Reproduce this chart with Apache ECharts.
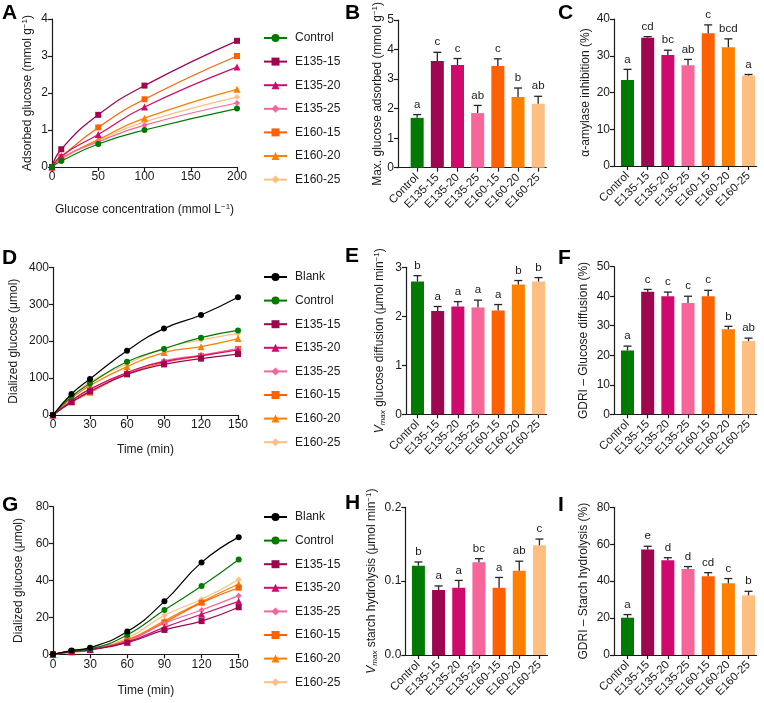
<!DOCTYPE html>
<html><head><meta charset="utf-8">
<script src="https://cdn.jsdelivr.net/npm/echarts@6/dist/echarts.min.js"></script>
<style>html,body{margin:0;padding:0;background:#fff}#c{width:764px;height:703px}</style>
</head><body><div id="c"></div><script>
// ---------- DATA ----------
const groups = ['Control','E135-15','E135-20','E135-25','E160-15','E160-20','E160-25'];
const lineGroups = ['Blank','Control','E135-15','E135-20','E135-25','E160-15','E160-20','E160-25'];

// A: adsorbed glucose vs glucose concentration (rows follow `groups`)
const glucoseConc = [0, 10, 50, 100, 200];
const adsorbedGlucose = [
  [0, 0.16, 0.62, 1.00, 1.58],
  [0, 0.48, 1.41, 2.20, 3.41],
  [0, 0.30, 0.88, 1.62, 2.70],
  [0, 0.25, 0.68, 1.13, 1.73],
  [0, 0.27, 1.07, 1.83, 3.00],
  [0, 0.23, 0.74, 1.32, 2.10],
  [0, 0.22, 0.72, 1.22, 1.89]
];

// D and G: dialized glucose vs time (rows follow `lineGroups`)
const timeMin = [0, 15, 30, 60, 90, 120, 150];
const dialyzedDiffusion = [
  [0, 57, 97.5, 174, 234, 271, 319],
  [0, 50, 85, 144, 179, 209.5, 229],
  [0, 35, 64, 110, 137, 152.6, 165],
  [0, 38, 70, 115, 144.5, 160, 176],
  [0, 39, 70, 113, 147, 162.5, 180],
  [0, 34, 60.5, 111, 142, 160, 179],
  [0, 45, 80, 131, 169, 185, 207],
  [0, 47, 90, 138, 181, 203, 221]
];
const dialyzedStarch = [
  [0, 2.0, 3.6, 12.3, 28.7, 49.8, 63.5],
  [0, 1.8, 2.9, 10.5, 24.0, 37.0, 51.4],
  [0, 1.5, 2.4, 6.3, 13.2, 18.0, 25.5],
  [0, 1.6, 2.6, 6.7, 14.6, 21.7, 28.7],
  [0, 1.7, 2.7, 7.2, 16.8, 24.0, 31.8],
  [0, 1.1, 2.3, 7.6, 17.3, 28.0, 36.1],
  [0, 1.3, 2.5, 7.8, 18.2, 28.5, 38.1],
  [0, 1.4, 2.7, 8.7, 21.1, 29.8, 40.6]
];

// B
const maxAdsorbed = [1.69, 3.62, 3.48, 1.85, 3.45, 2.40, 2.17];
const maxAdsorbedSD = [0.11, 0.29, 0.22, 0.26, 0.24, 0.30, 0.25];
const maxAdsorbedLetters = ['a','c','c','ab','c','b','ab'];
// C
const amylaseInhib = [23.4, 34.9, 30.2, 27.4, 36.1, 32.3, 24.6];
const amylaseInhibSD = [2.9, 0.3, 1.3, 1.6, 2.3, 2.3, 0.3];
const amylaseLetters = ['a','cd','bc','ab','c','bcd','a'];
// E
const vmaxDiffusion = [2.71, 2.11, 2.20, 2.18, 2.12, 2.65, 2.71];
const vmaxDiffusionSD = [0.12, 0.09, 0.10, 0.15, 0.12, 0.08, 0.08];
const vmaxDiffusionLetters = ['b','a','a','a','a','b','b'];
// F
const gdriDiffusion = [21.6, 41.5, 40.0, 37.7, 40.0, 28.8, 24.8];
const gdriDiffusionSD = [1.5, 0.8, 1.4, 2.3, 2.0, 1.0, 1.0];
const gdriDiffusionLetters = ['a','c','c','c','c','b','ab'];
// H
const vmaxStarch = [0.121, 0.088, 0.091, 0.1255, 0.091, 0.114, 0.1485];
const vmaxStarchSD = [0.005, 0.0055, 0.010, 0.005, 0.014, 0.013, 0.0085];
const vmaxStarchLetters = ['b','a','a','bc','a','ab','c'];
// I
const gdriStarch = [20.2, 57.2, 51.3, 46.6, 42.6, 38.8, 32.3];
const gdriStarchSD = [1.7, 1.7, 1.4, 1.3, 2.0, 2.6, 2.2];
const gdriStarchLetters = ['a','e','d','d','cd','c','b'];

// ---------- STYLE ----------
const FONT = 'Liberation Sans, Arial, sans-serif';
const INK = '#1a1a1a';
const STYLE = {
  'Blank':   {color:'#000000', symbol:'circle',   size:6},
  'Control': {color:'#007a00', symbol:'circle',   size:6},
  'E135-15': {color:'#9e0650', symbol:'rect',     size:6},
  'E135-20': {color:'#d00a6c', symbol:'triangle', size:7},
  'E135-25': {color:'#f8659a', symbol:'diamond',  size:6},
  'E160-15': {color:'#ff6000', symbol:'rect',     size:6},
  'E160-20': {color:'#ff8000', symbol:'triangle', size:7},
  'E160-25': {color:'#ffbf80', symbol:'diamond',  size:6}
};
const RICH = {
  sup: {fontSize: 8, fontFamily: FONT, color: INK, verticalAlign: 'top', lineHeight: 14},
  it:  {fontSize: 12, fontFamily: FONT, color: INK, fontStyle: 'italic', lineHeight: 14},
  sub: {fontSize: 8, fontFamily: FONT, color: INK, fontStyle: 'italic', verticalAlign: 'bottom', lineHeight: 14}
};
const BW = 20.17; // category band width in px
const XMAX_BAR = 6.4;

const grids = [], xAxes = [], yAxes = [], series = [];

function axisCommon() {
  return {
    axisLine: {show: true, onZero: false, lineStyle: {color: INK, width: 1.2}},
    axisTick: {show: true, length: 4, lineStyle: {color: INK, width: 1.2}},
    splitLine: {show: false},
    axisLabel: {color: INK, fontSize: 12, fontFamily: FONT, margin: 4},
    nameLocation: 'middle',
    nameTextStyle: {color: INK, fontSize: 12, fontFamily: FONT, rich: RICH}
  };
}

function addLinePanel(cfg) {
  const gi = grids.length;
  grids.push(cfg.grid);
  xAxes.push(Object.assign(axisCommon(), {
    gridIndex: gi, type: 'value', min: 0, max: cfg.xmax, interval: cfg.xint,
    name: cfg.xname, nameGap: cfg.xgap
  }));
  yAxes.push(Object.assign(axisCommon(), {
    gridIndex: gi, type: 'value', min: 0, max: cfg.ymax, interval: cfg.yint,
    name: cfg.yname, nameGap: cfg.ygap, nameRotate: 90
  }));
  cfg.names.forEach((nm, k) => {
    const st = STYLE[nm];
    series.push({
      type: 'line', name: nm, xAxisIndex: gi, yAxisIndex: gi,
      data: cfg.x.map((xv, j) => [xv, cfg.rows[k][j]]),
      smooth: 0.5,
      symbol: st.symbol, symbolSize: st.size,
      itemStyle: {color: st.color},
      lineStyle: {color: st.color, width: 1.2},
      z: 10 - k
    });
  });
}

function addBarPanel(cfg) {
  const gi = grids.length;
  const xmin = -cfg.offset;
  grids.push({left: cfg.axisX, top: cfg.top, width: (XMAX_BAR - xmin) * BW, height: cfg.bottom - cfg.top});
  const idx = groups.map((g, i) => i);
  const xa = Object.assign(axisCommon(), {
    gridIndex: gi, type: 'value', min: xmin, max: XMAX_BAR
  });
  xa.axisTick = {show: true, length: 4, lineStyle: {color: INK, width: 1.2}, customValues: idx};
  xa.axisLabel = {color: INK, fontSize: 11.5, fontFamily: FONT, margin: 8, rotate: 45,
    customValues: idx, formatter: v => groups[Math.round(v)]};
  xAxes.push(xa);
  yAxes.push(Object.assign(axisCommon(), {
    gridIndex: gi, type: 'value', min: 0, max: cfg.ymax, interval: cfg.yint,
    name: cfg.yname, nameGap: cfg.ygap, nameRotate: 90,
    axisLabel: {color: INK, fontSize: 12, fontFamily: FONT, margin: 4, formatter: cfg.yfmt || (v => String(v))}
  }));
  series.push({
    type: 'bar', name: 'bar' + gi, xAxisIndex: gi, yAxisIndex: gi, barWidth: 13,
    data: cfg.values.map((v, i) => ({value: [i, v], itemStyle: {color: STYLE[groups[i]].color}})),
    z: 2
  });
  const letters = cfg.letters;
  series.push({
    type: 'custom', name: 'err' + gi, xAxisIndex: gi, yAxisIndex: gi, z: 5,
    data: cfg.values.map((v, i) => [i, v, v + cfg.sd[i]]),
    renderItem: function (params, api) {
      const p0 = api.coord([api.value(0), api.value(1)]);
      const p1 = api.coord([api.value(0), api.value(2)]);
      const ls = {stroke: '#262626', lineWidth: 1.3};
      return {type: 'group', children: [
        {type: 'line', shape: {x1: p0[0], y1: p0[1], x2: p1[0], y2: p1[1]}, style: ls},
        {type: 'line', shape: {x1: p1[0] - 4, y1: p1[1], x2: p1[0] + 4, y2: p1[1]}, style: ls},
        {type: 'text', x: p1[0], y: p1[1] - 4, style: {text: letters[params.dataIndex],
          align: 'center', verticalAlign: 'bottom', fontSize: 11.5, fontFamily: FONT, fill: INK}}
      ]};
    }
  });
}

// ---------- PANELS ----------
addLinePanel({grid: {left: 52, top: 19, width: 185, height: 148},
  x: glucoseConc, rows: adsorbedGlucose, names: groups,
  xmax: 200, xint: 50, xname: 'Glucose concentration (mmol L{sup|−1})', xgap: 36,
  ymax: 4, yint: 1, yname: 'Adsorbed glucose (mmol g{sup|−1})', ygap: 17});
addBarPanel({axisX: 398, offset: 0.95, top: 19.3, bottom: 167.7, values: maxAdsorbed, sd: maxAdsorbedSD,
  letters: maxAdsorbedLetters, ymax: 5, yint: 1, yname: 'Max. glucose adsorbed (mmol g{sup|−1})', ygap: 13});
addBarPanel({axisX: 614, offset: 0.67, top: 19, bottom: 166, values: amylaseInhib, sd: amylaseInhibSD,
  letters: amylaseLetters, ymax: 40, yint: 10, yname: 'α-amylase inhibition (%)', ygap: 22});
addLinePanel({grid: {left: 53, top: 267.3, width: 185, height: 147.7},
  x: timeMin, rows: dialyzedDiffusion, names: lineGroups,
  xmax: 150, xint: 30, xname: 'Time (min)', xgap: 29,
  ymax: 400, yint: 100, yname: 'Dialized glucose (μmol)', ygap: 33});
addBarPanel({axisX: 406, offset: 0.57, top: 267.3, bottom: 414.3, values: vmaxDiffusion, sd: vmaxDiffusionSD,
  letters: vmaxDiffusionLetters, ymax: 3, yint: 1, yname: '{it|V}{sub|max} glucose diffusion (μmol min{sup|−1})', ygap: 19});
addBarPanel({axisX: 614, offset: 0.67, top: 266.7, bottom: 414.3, values: gdriDiffusion, sd: gdriDiffusionSD,
  letters: gdriDiffusionLetters, ymax: 50, yint: 10, yname: 'GDRI – Glucose diffusion (%)', ygap: 24});
addLinePanel({grid: {left: 53, top: 506.7, width: 185.7, height: 147.6},
  x: timeMin, rows: dialyzedStarch, names: lineGroups,
  xmax: 150, xint: 30, xname: 'Time (min)', xgap: 30,
  ymax: 80, yint: 20, yname: 'Dialized glucose (μmol)', ygap: 28});
addBarPanel({axisX: 405.3, offset: 0.65, top: 507.3, bottom: 655, values: vmaxStarch, sd: vmaxStarchSD,
  letters: vmaxStarchLetters, ymax: 0.2, yint: 0.1, yfmt: v => v.toFixed(1),
  yname: '{it|V}{sub|max} starch hydrolysis (μmol min{sup|−1})', ygap: 27});
addBarPanel({axisX: 614, offset: 0.67, top: 507.3, bottom: 655, values: gdriStarch, sd: gdriStarchSD,
  letters: gdriStarchLetters, ymax: 80, yint: 20, yname: 'GDRI – Starch hydrolysis (%)', ygap: 24});

function legendAt(top, names) {
  return {
    orient: 'vertical', left: 263, top: top, padding: 0, itemWidth: 23, itemHeight: 10, itemGap: 11.6,
    data: names, selectedMode: false,
    textStyle: {color: INK, fontSize: 12, fontFamily: FONT, padding: [0, 0, 0, 3]}
  };
}

const letterStyle = {fontSize: 21, fontWeight: 'bold', fontFamily: FONT, fill: '#000'};
const panelLetters = [['A', 2, 3], ['B', 345, 3], ['C', 558, 3], ['D', 2, 248], ['E', 345, 246],
  ['F', 558, 248], ['G', 2, 495], ['H', 345, 493], ['I', 558, 495]];

const chart = echarts.init(document.getElementById('c'), null, {renderer: 'canvas'});
chart.setOption({
  animation: false,
  backgroundColor: '#ffffff',
  grid: grids, xAxis: xAxes, yAxis: yAxes, series: series,
  legend: [legendAt(32, groups), legendAt(271, lineGroups), legendAt(511, lineGroups)],
  graphic: panelLetters.map(p => ({type: 'text', left: p[1], top: p[2], style: Object.assign({text: p[0]}, letterStyle)}))
});
</script></body></html>
